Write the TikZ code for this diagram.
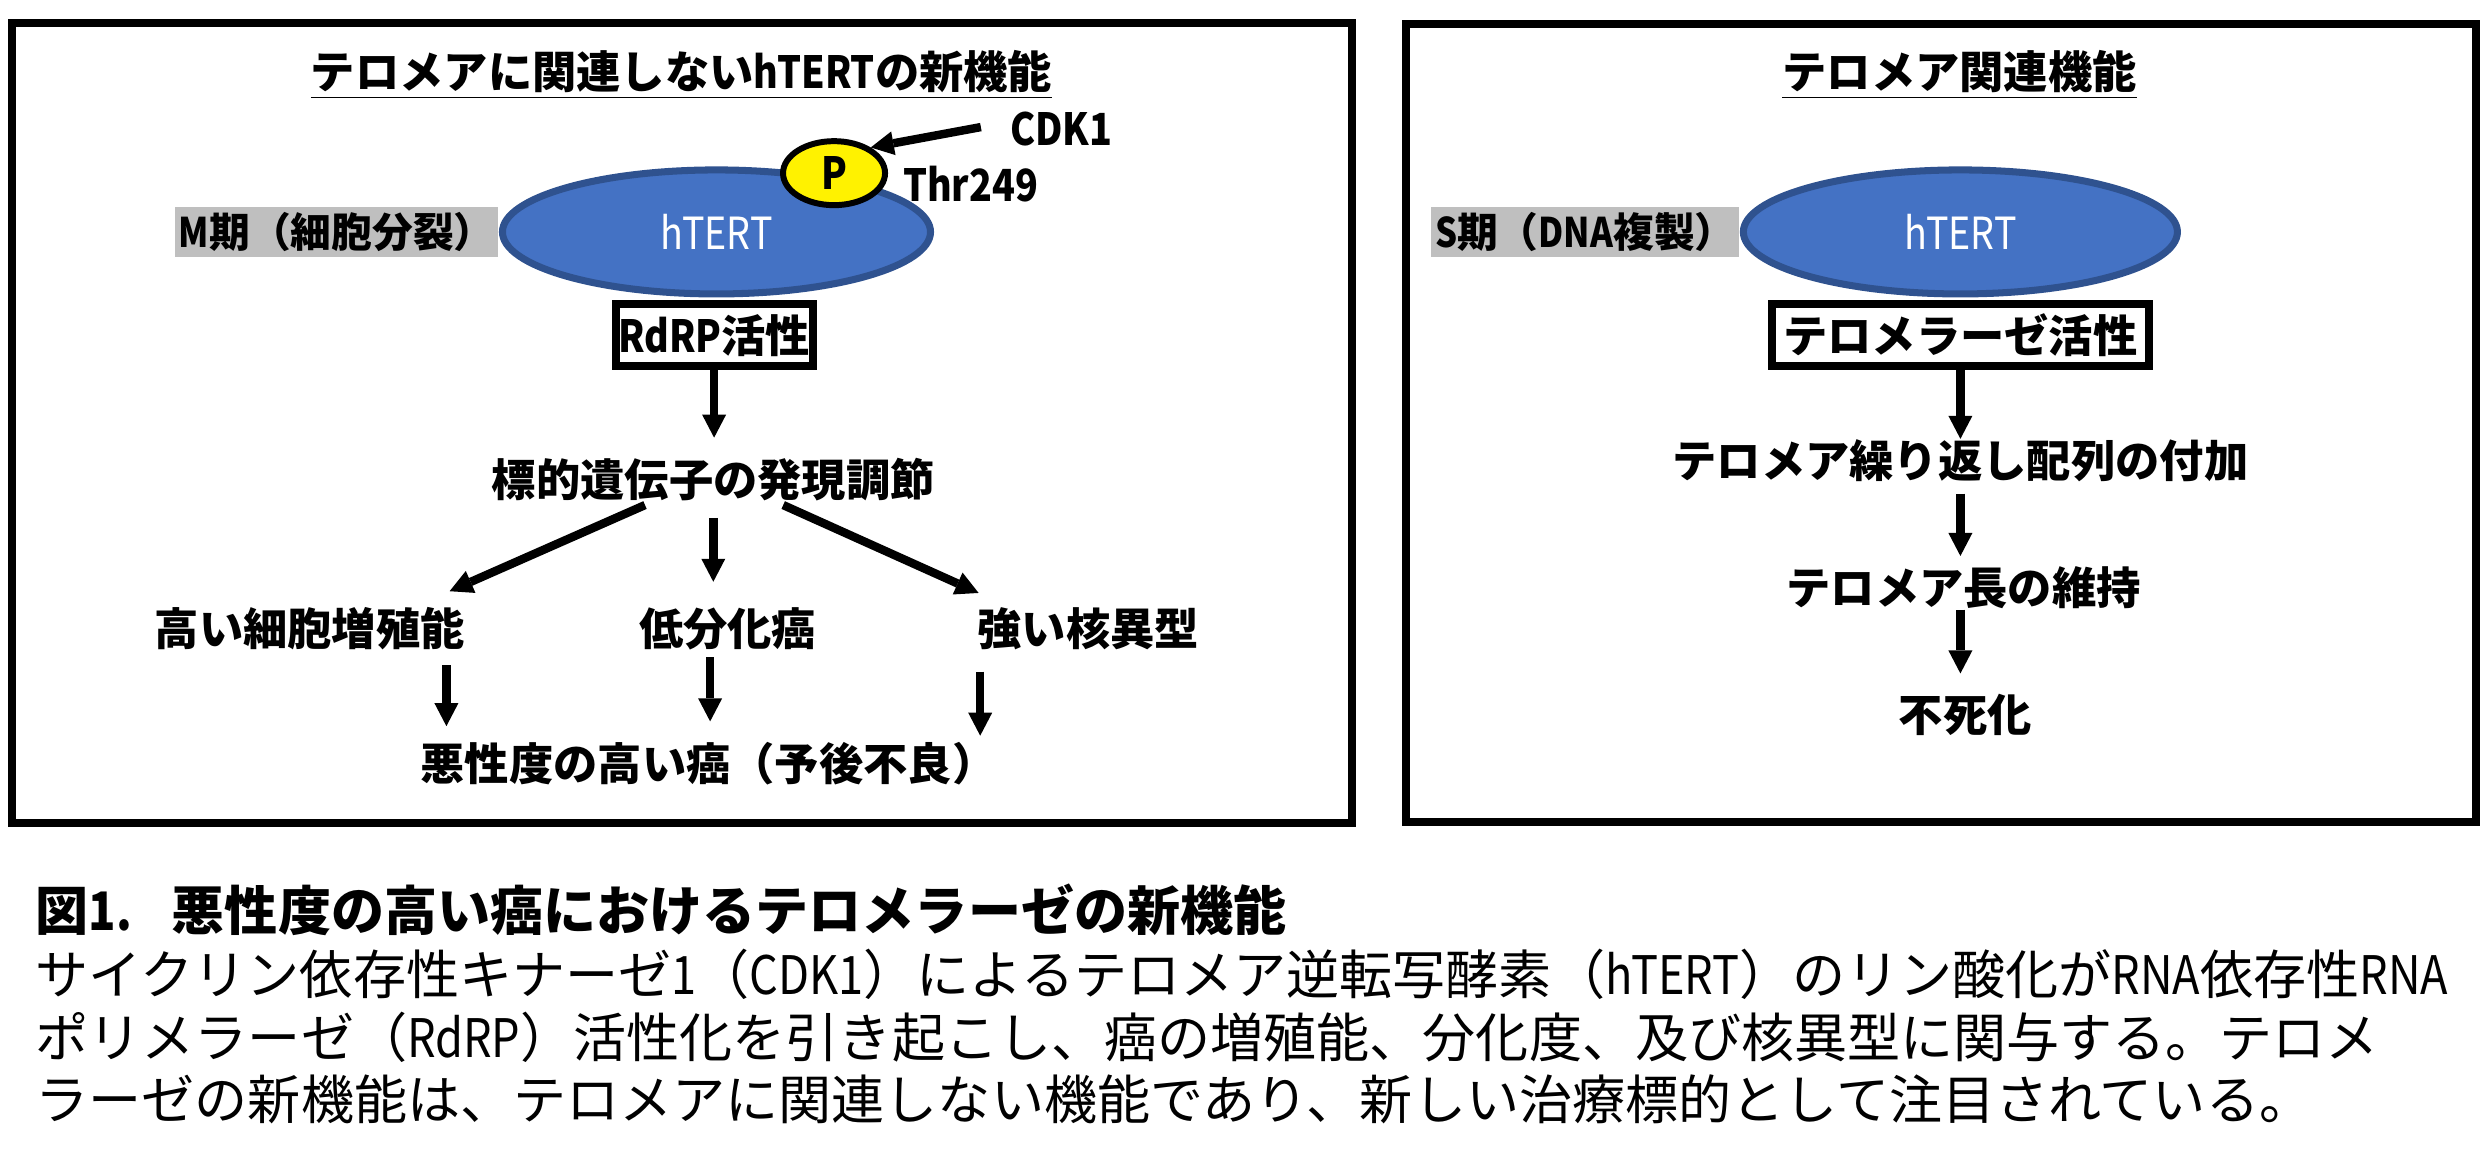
\documentclass[tikz,border=0pt]{standalone}
\usepackage{fontspec}
\setmainfont{Noto Sans CJK JP}
\newfontfamily\narrowfont[FakeStretch=0.85]{Noto Sans CJK JP}
\newcommand{\hw}[1]{{\narrowfont #1}}
\definecolor{tertblue}{RGB}{68, 114, 196}
\definecolor{tertedge}{RGB}{47, 82, 143}
\definecolor{phasegray}{RGB}{191, 191, 191}
\usetikzlibrary{shapes.geometric, arrows.meta, positioning, calc}
\newcommand{\diagsize}{\fontsize{12.6pt}{15pt}\selectfont}
\newcommand{\capsize}{\fontsize{15.1pt}{18pt}\selectfont}

\tikzset{
  panel/.style={draw, line width=2.3pt},
  flow/.style={font=\diagsize\bfseries, inner sep=0pt},
  actbox/.style={draw, line width=2.3pt, font=\diagsize\bfseries, inner sep=0pt, minimum height=0.62cm},
  tert/.style={ellipse, draw=tertedge, fill=tertblue, line width=2pt, text=white, font=\diagsize, minimum width=4.28cm, minimum height=1.24cm},
  phase/.style={fill=phasegray, font=\fontsize{11.6pt}{14pt}\selectfont\bfseries, inner xsep=1pt, inner ysep=1.5pt},
  arr/.style={line width=2.4pt, -{Triangle[length=0.23cm, width=0.24cm, line width=0pt]}},
  capline/.style={anchor=west, inner sep=0pt, font=\capsize},
}

\begin{document}
\begin{tikzpicture}[x=0.015887cm, y=-0.015887cm]
  \useasboundingbox (0,0) rectangle (1568,735);

  % Left panel: non-telomeric function
  \draw[panel] (7.5,14.5) rectangle (851,518);
  \node[flow, anchor=base] (ttlL) at (429,55.6) {\underline{テロメアに関連しない\hw{hTERT}の新機能}};

  \node[tert] (htL) at (451,146) {\hw{hTERT}};
  \node[phase, left=0pt of htL] (mph) {\hw{M}期（細胞分裂）};
  \node[ellipse, draw, fill=yellow, line width=1.7pt, minimum width=1.02cm, minimum height=0.64cm, font=\diagsize\bfseries, inner sep=0pt] (phos) at (525,109) {\hw{P}};
  \node[flow] (cdk) at (668,81) {\hw{CDK1}};
  \node[flow] (thr) at (611,116) {\hw{Thr249}};
  \draw[arr] ($(cdk.west)+(-18,-1)$) -- (phos.35);

  \node[actbox, minimum width=1.97cm] (rdrp) at (449.5,211) {\hw{RdRP}活性};
  \node[flow] (tgt) at (449,302) {標的遺伝子の発現調節};
  \draw[arr, shorten >=0.2cm] (rdrp.south) -- (rdrp.south |- tgt.north);

  % three outcomes
  \node[flow] (prolif) at (195,396) {高い細胞増殖能};
  \node[flow] (undiff) at (458,396) {低分化癌};
  \node[flow] (atyp) at (685,396) {強い核異型};
  \draw[arr] ($(tgt.south)+(-43,2)$) -- ($(prolif.north)+(88,-10)$);
  \draw[arr] ($(tgt.south)+(0,10)$) -- ($(tgt.south |- undiff.north)+(0,-16)$);
  \draw[arr] ($(tgt.south)+(44,2)$) -- ($(atyp.north)+(-69,-9)$);

  \node[flow] (malig) at (446,481) {悪性度の高い癌（予後不良）};
  \draw[arr] ($(prolif.south)+(86,9)$) -- ($(malig.north)+(-165,-10)$);
  \draw[arr] ($(undiff.south)+(-11,4)$) -- ($(malig.north)+(1,-13)$);
  \draw[arr] ($(atyp.south)+(-68,13)$) -- ($(malig.north)+(171,-4)$);

  % Right panel: telomere function
  \draw[panel] (885,15) rectangle (1558.5,517.5);
  \node[flow, anchor=base] (ttlR) at (1233.5,55.6) {\underline{テロメア関連機能}};

  \node[tert, minimum width=4.34cm] (htR) at (1234,146) {\hw{hTERT}};
  \node[phase, left=0pt of htR] (sph) {\hw{S}期（\hw{DNA}複製）};
  \node[actbox, minimum width=3.77cm] (tase) at (1234,211) {テロメラーゼ活性};
  \node[flow] (rep) at (1234,290) {テロメア繰り返し配列の付加};
  \node[flow] (maint) at (1236,370) {テロメア長の維持};
  \node[flow] (immort) at (1237,450) {不死化};
  \draw[arr] (tase.south) -- (tase.south |- rep.north);
  \draw[arr, shorten <=0.11cm, shorten >=0.1cm] (rep.south) -- (rep.south |- maint.north);
  \draw[arr, shorten >=0.2cm] (rep.south |- maint.south) -- (rep.south |- immort.north);

  % Caption
  \node[capline, font=\capsize\bfseries] (capttl) at (22,573) {図\hw{1.}\hspace{0.75em}悪性度の高い癌におけるテロメラーゼの新機能};
  \node[capline] (cap1) at (22,613) {サイクリン依存性キナーゼ\hw{1}（\hw{CDK1}）によるテロメア逆転写酵素（\hw{hTERT}）のリン酸化が\hw{RNA}依存性\hw{RNA}};
  \node[capline] (cap2) at (22,653) {ポリメラーゼ（\hw{RdRP}）活性化を引き起こし、癌の増殖能、分化度、及び核異型に関与する。テロメ};
  \node[capline] (cap3) at (22,692) {ラーゼの新機能は、テロメアに関連しない機能であり、新しい治療標的として注目されている。};
\end{tikzpicture}
\end{document}
